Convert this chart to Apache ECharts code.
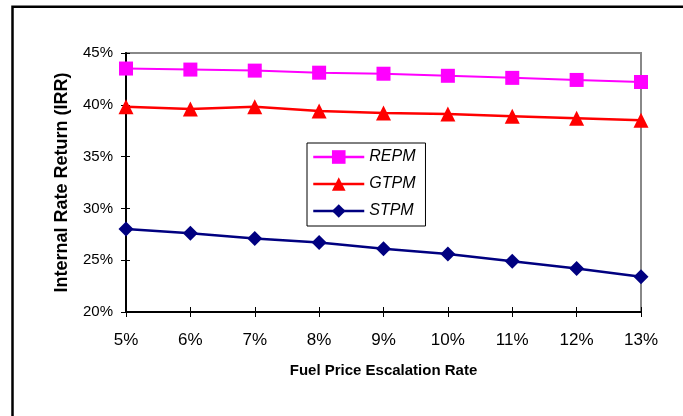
<!DOCTYPE html>
<html>
<head>
<meta charset="utf-8">
<script src="https://cdn.jsdelivr.net/npm/echarts@6/dist/echarts.min.js"></script>
<style>
html,body{margin:0;padding:0;background:#fff;}
#chart{width:683px;height:416px;}
</style>
</head>
<body>
<div id="chart"></div>
<script>
var categories = ['5%','6%','7%','8%','9%','10%','11%','12%','13%'];
var repm = [43.5, 43.4, 43.3, 43.1, 43.0, 42.8, 42.6, 42.4, 42.2];
var gtpm = [39.8, 39.6, 39.8, 39.4, 39.2, 39.1, 38.9, 38.7, 38.5];
var stpm = [28.0, 27.6, 27.1, 26.7, 26.1, 25.6, 24.9, 24.2, 23.4];
var xTitle = 'Fuel Price Escalation Rate';
var yTitle = 'Internal Rate Return (IRR)';

var FONT = '"Liberation Sans", Arial, sans-serif';
var chart = echarts.init(document.getElementById('chart'), null, {renderer:'canvas'});
chart.setOption({
  animation: false,
  backgroundColor: '#fff',
  graphic: [{
    type: 'rect', silent: true, z: 100,
    shape: {x: 12.5, y: 6.8, width: 720, height: 500},
    style: {fill: 'none', stroke: '#000', lineWidth: 2.5}
  }],
  grid: {left: 126, top: 53, right: 42, bottom: 104, show: true,
         borderColor: '#888', borderWidth: 2, backgroundColor: 'transparent'},
  legend: {
    orient: 'vertical', left: 307, top: 143,
    backgroundColor: '#fff', borderColor: '#000', borderWidth: 1,
    padding: [6, 10, 7, 5], itemGap: 11, itemWidth: 51, itemHeight: 17,
    lineStyle: {width: 2.5},
    textStyle: {fontFamily: FONT, fontSize: 16, fontStyle: 'italic', color: '#000'},
    data: ['REPM', 'GTPM', 'STPM']
  },
  xAxis: [{
    type: 'category', data: categories, boundaryGap: false, position: 'bottom',
    axisLine: {lineStyle: {color: '#000', width: 2}},
    axisTick: {show: true, length: 5, lineStyle: {color: '#000', width: 1}},
    axisLabel: {fontFamily: FONT, fontSize: 17, color: '#000', margin: 20},
    splitLine: {show: false},
    name: xTitle, nameLocation: 'middle', nameGap: 51,
    nameTextStyle: {fontFamily: FONT, fontSize: 15, fontWeight: 'bold', color: '#000'}
  }, {
    type: 'category', data: categories, boundaryGap: false, position: 'bottom',
    axisLine: {show: false},
    axisTick: {show: true, inside: true, length: 5, lineStyle: {color: '#000', width: 1}},
    axisLabel: {show: false}, splitLine: {show: false}
  }],
  yAxis: [{
    type: 'value', min: 20, max: 45, interval: 5, position: 'left',
    axisLine: {show: true, lineStyle: {color: '#000', width: 2}},
    axisTick: {show: true, length: 5, lineStyle: {color: '#000', width: 1}},
    axisLabel: {fontFamily: FONT, fontSize: 15, color: '#000', margin: 13, formatter: '{value}%'},
    splitLine: {show: false},
    name: yTitle, nameLocation: 'middle', nameGap: 55, nameRotate: 90,
    nameTextStyle: {fontFamily: FONT, fontSize: 18, fontWeight: 'bold', color: '#000'}
  }, {
    type: 'value', min: 20, max: 45, interval: 5, position: 'left',
    axisLine: {show: false},
    axisTick: {show: true, inside: true, length: 4, lineStyle: {color: '#000', width: 1}},
    axisLabel: {show: false}, splitLine: {show: false}
  }],
  series: [{
    name: 'REPM', type: 'line', data: repm, xAxisIndex: 0, yAxisIndex: 0,
    symbol: 'rect', symbolSize: 14, showAllSymbol: true,
    lineStyle: {color: '#FF00FF', width: 2},
    itemStyle: {color: '#FF00FF', borderWidth: 0}
  }, {
    name: 'GTPM', type: 'line', data: gtpm, xAxisIndex: 0, yAxisIndex: 0,
    symbol: 'triangle', symbolSize: 15, showAllSymbol: true,
    lineStyle: {color: '#FF0000', width: 2.5},
    itemStyle: {color: '#FF0000', borderWidth: 0}
  }, {
    name: 'STPM', type: 'line', data: stpm, xAxisIndex: 0, yAxisIndex: 0,
    symbol: 'diamond', symbolSize: 15, showAllSymbol: true,
    lineStyle: {color: '#000080', width: 2.5},
    itemStyle: {color: '#000080', borderWidth: 0}
  }]
});
</script>
</body>
</html>
